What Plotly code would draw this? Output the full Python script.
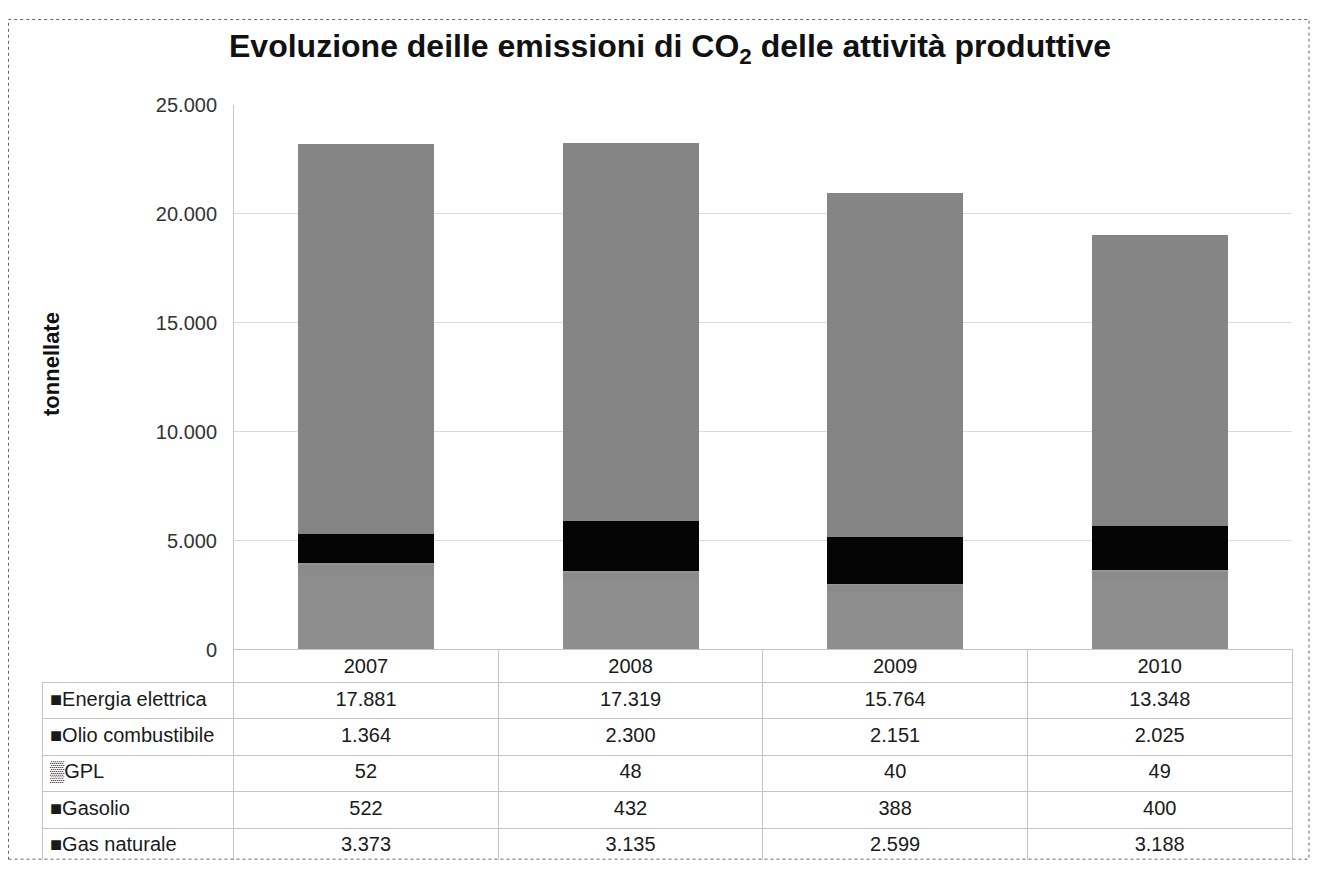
import plotly.graph_objects as go

# The page body has an 8px margin: the figure is sized so it fits the 1318x879 window,
# and positions below are given in window pixels, then converted.
OFF = 8
FW, FH = 1318 - 2 * OFF, 879 - 2 * OFF


def fx(px):
    return (px - OFF) / FW


def fy(py):
    return 1 - (py - OFF) / FH


years = ["2007", "2008", "2009", "2010"]
series_names = ["Gas naturale", "Gasolio", "GPL", "Olio combustibile", "Energia elettrica"]
gas_naturale = [3373, 3135, 2599, 3188]
gasolio = [522, 432, 388, 400]
gpl = [52, 48, 40, 49]
olio_combustibile = [1364, 2300, 2151, 2025]
energia_elettrica = [17881, 17319, 15764, 13348]

tick_vals = [0, 5000, 10000, 15000, 20000, 25000]
tick_text = ["0", "5.000", "10.000", "15.000", "20.000", "25.000"]

series_values = [gas_naturale, gasolio, gpl, olio_combustibile, energia_elettrica]
bar_colors = ["#8e8e8e", "#8b8b8b", "#959595", "#050505", "#858585"]
legend_keys = ["■", "■", "▒", "■", "■"]

FONT = "Liberation Sans, Arial, sans-serif"

fig = go.Figure()
for name, vals, col in zip(series_names, series_values, bar_colors):
    fig.add_trace(go.Bar(x=years, y=vals, name=name, marker=dict(color=col, line=dict(width=0)),
                         showlegend=False))

# data table (legend keys + values), Excel-style
order = list(range(len(series_names)))[::-1]
label_col = [legend_keys[i] + series_names[i] for i in order]


def fmt(v):
    return f"{v:,}".replace(",", ".")


value_cols = [[fmt(series_values[i][k]) for i in order] for k in range(len(years))]

LINE = "#c4c4c4"
TAB_TOP, HEAD_H, ROW_H = 655, 33, 36.4
tab_bot = TAB_TOP + HEAD_H + 5 * ROW_H + 0.5
fig.add_trace(go.Table(
    domain=dict(x=[fx(42), fx(1292)], y=[max(0, fy(tab_bot)), fy(TAB_TOP)]),
    columnwidth=[192, 265, 265, 265, 265],
    header=dict(values=[""] + years,
                fill=dict(color=["rgba(0,0,0,0)", "white", "white", "white", "white"]),
                line=dict(color=["rgba(0,0,0,0)", LINE, LINE, LINE, LINE], width=1),
                font=dict(family=FONT, size=20, color="#1a1a1a"),
                align="center", height=HEAD_H),
    cells=dict(values=[label_col] + value_cols,
               fill=dict(color="white"),
               line=dict(color=LINE, width=1),
               font=dict(family=FONT, size=20, color="#1a1a1a"),
               align=["left", "center", "center", "center", "center"], height=ROW_H),
))

fig.update_layout(
    width=FW, height=FH,
    margin=dict(l=0, r=0, t=0, b=0),
    paper_bgcolor="white", plot_bgcolor="white",
    barmode="stack", bargap=0.485,
    font=dict(family=FONT, color="#222222"),
    title=dict(text="<b>Evoluzione deille emissioni di CO<sub>2</sub> delle attività produttive</b>",
               x=fx(670), xanchor="center", y=fy(46), yanchor="middle",
               font=dict(family=FONT, size=32, color="#111111")),
    xaxis=dict(domain=[fx(234), fx(1292)], showticklabels=False, showgrid=False,
               showline=False, zeroline=False),
    yaxis=dict(domain=[fy(655), fy(96)], range=[0, 25000],
               tickvals=tick_vals, ticktext=tick_text,
               tickfont=dict(family=FONT, size=20, color="#333333"),
               showgrid=True, gridcolor="#dcdcdc", gridwidth=1,
               showline=True, linecolor="#c8c8c8", linewidth=1,
               zeroline=False, ticks="", ticklabelstandoff=12),
    annotations=[dict(text="<b>tonnellate</b>", x=fx(52), y=fy(362), xref="paper", yref="paper",
                      xanchor="center", yanchor="middle",
                      textangle=-90, showarrow=False, font=dict(family=FONT, size=22, color="#111111"))],
    shapes=[dict(type="rect", xref="paper", yref="paper", x0=fx(8.5), x1=fx(1309), y0=0.001, y1=1 - 0.5 / FH,
                 line=dict(color="#666666", width=1, dash="dot"))],
)

fig.write_html("out.html")
